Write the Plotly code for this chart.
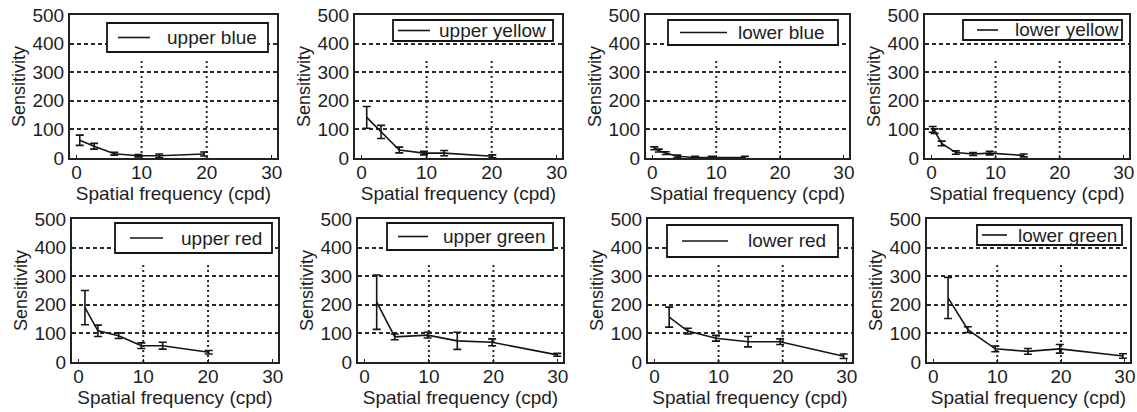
import plotly.graph_objects as go

# ---------------- data ----------------
names = ["upper blue", "upper yellow", "lower blue", "lower yellow",
         "upper red", "upper green", "lower red", "lower green"]

x_upper_blue = [0.5, 2.7, 5.8, 9.5, 12.7, 19.6]
y_upper_blue = [62, 41, 15, 8, 8, 14]
e_upper_blue = [18, 10, 5, 4, 6, 7]

x_upper_yellow = [0.8, 3.0, 5.8, 9.6, 12.7, 20.1]
y_upper_yellow = [142, 91, 28, 17, 17, 6]
e_upper_yellow = [38, 23, 10, 6, 9, 5]

x_lower_blue = [0.3, 1.0, 2.1, 3.9, 6.7, 9.3, 14.5]
y_lower_blue = [34, 26, 17, 6, 2, 2, 2]
e_lower_blue = [5, 5, 5, 4, 4, 4, 4]

x_lower_yellow = [0.2, 0.5, 1.6, 3.8, 6.5, 9.1, 14.4]
y_lower_yellow = [100, 94, 51, 19, 14, 17, 9]
e_lower_yellow = [10, 8, 8, 6, 5, 6, 5]

x_upper_red = [1.0, 3.0, 6.2, 9.7, 13.0, 20.1]
y_upper_red = [190, 109, 92, 57, 57, 34]
e_upper_red = [60, 20, 10, 10, 12, 6]

x_upper_green = [1.9, 4.7, 9.8, 14.4, 19.8, 29.9]
y_upper_green = [209, 88, 94, 74, 69, 25]
e_upper_green = [95, 10, 10, 30, 12, 5]

x_lower_red = [2.3, 5.2, 9.6, 14.6, 19.6, 29.5]
y_lower_red = [157, 108, 83, 71, 71, 20]
e_lower_red = [35, 10, 10, 18, 10, 8]

x_lower_green = [2.3, 5.4, 9.7, 14.8, 19.8, 29.7]
y_lower_green = [224, 113, 46, 37, 46, 21]
e_lower_green = [72, 10, 10, 10, 15, 8]

xs = [x_upper_blue, x_upper_yellow, x_lower_blue, x_lower_yellow,
      x_upper_red, x_upper_green, x_lower_red, x_lower_green]
ys = [y_upper_blue, y_upper_yellow, y_lower_blue, y_lower_yellow,
      y_upper_red, y_upper_green, y_lower_red, y_lower_green]
es = [e_upper_blue, e_upper_yellow, e_lower_blue, e_lower_yellow,
      e_upper_red, e_upper_green, e_lower_red, e_lower_green]

y_ticks = [0, 100, 200, 300, 400, 500]
x_ticks = [0, 10, 20, 30]
x_title = "Spatial frequency (cpd)"
y_title = "Sensitivity"

# ---------------- layout geometry (pixels) ----------------
W, H = 1137, 412
px_x = [(70, 277), (355, 562), (646, 849), (925, 1129),
        (72, 278), (358, 563), (648, 852), (927, 1130)]
px_y = [(15, 158)] * 4 + [(219, 362)] * 4
# legend boxes: (left, right, top, bottom, line_x0, line_x1, text_x)
legend_box = [(107, 268, 23, 52, 118, 150, 165),
              (393, 553, 20, 41, 398, 430, 437),
              (668, 838, 20, 45, 680, 727, 736),
              (963, 1122, 20, 40, 977, 998, 1013),
              (115, 272, 223, 253, 130, 163, 179),
              (387, 553, 223, 250, 398, 428, 441),
              (667, 838, 225, 257, 682, 728, 746),
              (977, 1122, 225, 245, 982, 1007, 1016)]

FONT = "Liberation Sans, Arial, Helvetica, sans-serif"
TXT = "#1e1e1e"
GRID = "#2a2a2a"

fig = go.Figure()
layout = dict(
    width=W, height=H,
    margin=dict(l=0, r=0, t=0, b=0, autoexpand=False),
    paper_bgcolor="white", plot_bgcolor="white",
    font=dict(family=FONT, size=19, color=TXT),
    showlegend=False,
)
shapes = []
annotations = []

for i in range(8):
    ax = "" if i == 0 else str(i + 1)
    xa, ya = "x" + ax, "y" + ax
    fig.add_trace(go.Scatter(
        x=xs[i], y=ys[i], mode="lines", name=names[i],
        line=dict(color="#151515", width=1.6),
        error_y=dict(type="data", array=es[i], visible=True,
                     color="#151515", thickness=1.6, width=4),
        xaxis=xa, yaxis=ya,
    ))
    x0, x1 = px_x[i]
    y0, y1 = px_y[i]
    layout["xaxis" + ax] = dict(
        domain=[x0 / W, x1 / W], anchor=ya, range=[-1, 30.8],
        tickvals=x_ticks, showgrid=False, zeroline=False, automargin=False,
        showline=True, mirror=True, linecolor="#222", linewidth=2,
        ticks="inside", ticklen=3, tickcolor="#222", ticklabelstandoff=-4,
        tickfont=dict(size=19, color=TXT),
        title=dict(text=x_title, font=dict(size=19, color=TXT), standoff=0),
    )
    layout["yaxis" + ax] = dict(
        domain=[1 - y1 / H, 1 - y0 / H], anchor=xa, range=[0, 500],
        tickvals=y_ticks, showgrid=True, gridcolor=GRID, automargin=False,
        griddash="4px,3px", gridwidth=1.6, zeroline=False,
        showline=True, mirror=True, linecolor="#222", linewidth=2,
        ticks="inside", ticklen=3, tickcolor="#222",
        tickfont=dict(size=19, color=TXT),
        title=dict(text=y_title, font=dict(size=18, color=TXT), standoff=2),
    )
    for xv in (10, 20):
        shapes.append(dict(type="line", xref=xa, yref=ya, x0=xv, x1=xv,
                           y0=0, y1=345, layer="below",
                           line=dict(color=GRID, width=2, dash="2px,3px")))
    # legend drawn as a box, a line sample and a text label
    bl, br, bt, bb, lx0, lx1, tx = legend_box[i]
    shapes.append(dict(type="rect", xref="paper", yref="paper",
                       x0=bl / W, x1=br / W, y0=1 - bb / H, y1=1 - bt / H,
                       fillcolor="white", line=dict(color="#151515", width=1.8),
                       layer="above"))
    yc = 1 - (bt + bb) / 2 / H
    shapes.append(dict(type="line", xref="paper", yref="paper",
                       x0=lx0 / W, x1=lx1 / W, y0=yc, y1=yc,
                       line=dict(color="#151515", width=1.6), layer="above"))
    annotations.append(dict(xref="paper", yref="paper", x=tx / W, y=yc,
                            xanchor="left", yanchor="middle", showarrow=False,
                            text=names[i], font=dict(size=19, color=TXT)))

layout["shapes"] = shapes
layout["annotations"] = annotations
fig.update_layout(**layout)
fig.write_html("out.html",
               config={"displayModeBar": False},
               post_script="document.body.style.margin='0px';"
                           "document.body.style.overflow='hidden';")
